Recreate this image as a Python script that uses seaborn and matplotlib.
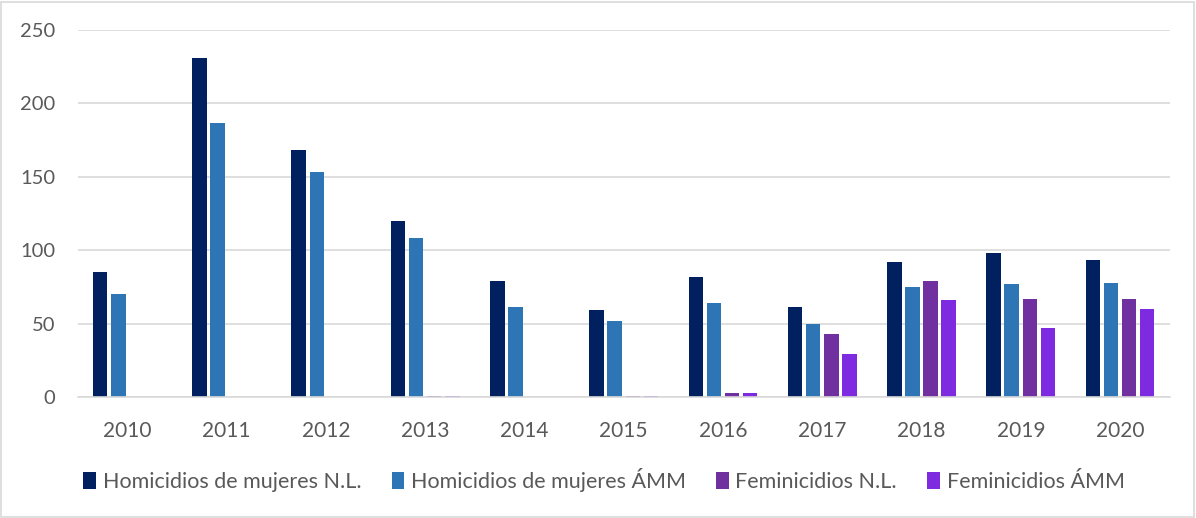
import numpy as np
import pandas as pd
import matplotlib
matplotlib.use('Agg')
import matplotlib.pyplot as plt
import seaborn as sns

# data
years = ['2010', '2011', '2012', '2013', '2014', '2015', '2016', '2017', '2018', '2019', '2020']
series = ['Homicidios de mujeres N.L.', 'Homicidios de mujeres ÁMM',
          'Feminicidios N.L.', 'Feminicidios ÁMM']
hom_nl = [85, 231, 168, 120, 79, 59, 82, 61, 92, 98, 93]
hom_amm = [70, 187, 153, 108, 61, 52, 64, 50, 75, 77, 78]
fem_nl = [np.nan, np.nan, np.nan, 1, np.nan, 1, 3, 43, 79, 67, 67]
fem_amm = [np.nan, np.nan, np.nan, 1, np.nan, 1, 3, 29, 66, 47, 60]
colors = ['#002060', '#2E75B6', '#7030A0', '#7D2AE0']

df = pd.DataFrame({'year': years * 4,
                   'serie': np.repeat(series, len(years)),
                   'value': hom_nl + hom_amm + fem_nl + fem_amm})

sns.set_style('white')
plt.rcParams['font.family'] = ['Lato', 'DejaVu Sans']

fig = plt.figure(figsize=(11.96, 5.18), dpi=100)
ax = fig.add_axes([0.065, 0.2336, 0.913, 0.7084])

sns.barplot(data=df, x='year', y='value', hue='serie', hue_order=series,
            palette=colors, width=0.73, gap=0.2, linewidth=0,
            saturation=1, ax=ax)

ax.set_ylim(0, 250)
ax.set_yticks(range(0, 251, 50))
ax.yaxis.grid(True, color='#D9D9D9', lw=1.2)
ax.set_axisbelow(True)
for s in ['top', 'right', 'left']:
    ax.spines[s].set_visible(False)
ax.spines['bottom'].set_color('#D9D9D9')
ax.spines['bottom'].set_linewidth(1.2)
ax.tick_params(axis='x', length=0, labelsize=15, colors='#595959', pad=17)
ax.tick_params(axis='y', length=0, labelsize=14.5, colors='#595959', pad=16)
ax.set_xlabel('')
ax.set_ylabel('')

handles, labels = ax.get_legend_handles_labels()
ax.get_legend().remove()
fig.legend(handles, labels, loc='center', bbox_to_anchor=(0.505, 0.073), ncol=4,
           frameon=False, fontsize=15.5, labelcolor='#595959',
           handlelength=0.6, handleheight=0.8, handletextpad=0.3, columnspacing=1.4)

# light frame around the whole chart
fig.patches.append(plt.Rectangle((0.001, 0.002), 0.997, 0.995, transform=fig.transFigure,
                                 fill=False, edgecolor='#D9D9D9', lw=1.2))

fig.savefig('out.png', dpi=100)
